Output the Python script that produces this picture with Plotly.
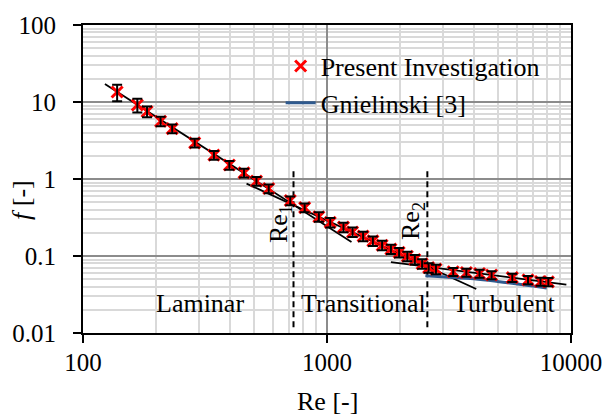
import plotly.graph_objects as go

# ---- data ----
re_data = [138, 167, 183, 208, 232, 287, 344, 398, 457, 514, 577, 707, 810,
           926, 1031, 1168, 1273, 1406, 1542, 1682, 1828, 1975, 2134, 2291,
           2454, 2610, 2796, 3290, 3726, 4218, 4727, 5746, 6666, 7499, 8075]
f_data = [13.5, 9.15, 7.53, 5.63, 4.51, 2.95, 2.04, 1.52, 1.20, 0.938, 0.752,
          0.525, 0.425, 0.324, 0.273, 0.237, 0.205, 0.181, 0.157, 0.138, 0.123,
          0.1115, 0.0993, 0.0902, 0.0794, 0.0707, 0.0675, 0.0624, 0.0611,
          0.0593, 0.0567, 0.0524, 0.0490, 0.0467, 0.0461]
err_pct = [24, 20, 16, 14, 13, 13, 13, 13, 13, 13, 13, 13, 13,
           14, 14, 14, 14, 14, 14, 14, 14, 14, 14, 14,
           14, 14, 14, 12, 12, 12, 12, 12, 12, 12, 12]

lam_fit_re = [123, 1260]
lam_fit_f = [17.1, 0.152]
tra_fit_re = [468, 4090]
tra_fit_f = [0.870, 0.0373]
tur_fit_re = [1828, 9573]
tur_fit_f = [0.0834, 0.0424]

gn_re = [2530, 4000, 5000, 7950]
gn_f = [0.0555, 0.0505, 0.0467, 0.0384]

re1 = 729
re2 = 2578
re1_f = [0.0119, 1.36]
re2_f = [0.0119, 1.28]

x_ticks = [100, 1000, 10000]
x_ticklabels = ["100", "1000", "10000"]
y_ticks = [0.01, 0.1, 1, 10, 100]
y_ticklabels = ["0.01", "0.1", "1", "10", "100"]

FONT = "Liberation Serif, Times New Roman, Tinos, DejaVu Serif, serif"

err_plus = [f * p / 100 for f, p in zip(f_data, err_pct)]

fig = go.Figure()

# fit lines
for xs, ys in [(lam_fit_re, lam_fit_f), (tra_fit_re, tra_fit_f), (tur_fit_re, tur_fit_f)]:
    fig.add_trace(go.Scatter(x=xs, y=ys, mode="lines", showlegend=False,
                             line=dict(color="black", width=1.8), hoverinfo="skip"))

# dashed boundaries
fig.add_trace(go.Scatter(x=[re1, re1], y=re1_f, mode="lines", showlegend=False,
                         line=dict(color="black", width=2, dash="6px,4px")))
fig.add_trace(go.Scatter(x=[re2, re2], y=re2_f, mode="lines", showlegend=False,
                         line=dict(color="black", width=2, dash="6px,4px")))

# Gnielinski
fig.add_trace(go.Scatter(x=gn_re, y=gn_f, mode="lines", name="Gnielinski [3]",
                         line=dict(color="#2f5a8e", width=3, shape="spline"),
                         legendrank=2))

# data points
fig.add_trace(go.Scatter(x=re_data, y=f_data, mode="markers", name="Present Investigation",
                         marker=dict(symbol="x-thin", size=11, color="red",
                                     line=dict(color="red", width=3)),
                         legendrank=1))
# error bars drawn on top of the markers
fig.add_trace(go.Scatter(x=re_data, y=f_data, mode="markers", showlegend=False,
                         marker=dict(size=1, color="rgba(0,0,0,0)"),
                         error_y=dict(type="data", array=err_plus, symmetric=True,
                                      color="black", thickness=2, width=5),
                         hoverinfo="skip"))

ann = [
    dict(text="Laminar", x=2.48, y=-1.621),
    dict(text="Transitional", x=3.15, y=-1.621),
    dict(text="Turbulent", x=3.726, y=-1.621),
]
annotations = []
for a in ann:
    annotations.append(dict(text=a["text"], x=a["x"], y=a["y"], xref="x", yref="y",
                            showarrow=False, font=dict(family=FONT, size=26, color="black"),
                            xanchor="center", yanchor="middle"))
annotations.append(dict(text="Re<sub>1</sub>", x=2.805, y=-0.58, xref="x", yref="y",
                        textangle=-90, showarrow=False, xanchor="center", yanchor="middle",
                        font=dict(family=FONT, size=26, color="black")))
annotations.append(dict(text="Re<sub>2</sub>", x=3.351, y=-0.55, xref="x", yref="y",
                        textangle=-90, showarrow=False, xanchor="center", yanchor="middle",
                        font=dict(family=FONT, size=26, color="black")))
annotations.append(dict(text="<i>f</i> [-]", x=-0.125, y=0.432, xref="paper", yref="paper",
                        textangle=-90, showarrow=False, xanchor="center", yanchor="middle",
                        font=dict(family=FONT, size=26, color="black")))
annotations.append(dict(text="Re [-]", x=0.5, y=-0.2208, xref="paper", yref="paper",
                        showarrow=False, xanchor="center", yanchor="middle",
                        font=dict(family=FONT, size=26, color="black")))

axis_common = dict(
    type="log",
    showline=True, linecolor="black", linewidth=2, mirror=True,
    ticks="outside", ticklen=8, tickwidth=2, tickcolor="black",
    showgrid=True, gridcolor="#8c8c8c", gridwidth=1.5,
    tickfont=dict(family=FONT, size=25, color="black"),
    minor=dict(dtick="D1", showgrid=True, gridcolor="#d9d9d9", gridwidth=1.5, ticks=""),
    zeroline=False,
)

fig.update_layout(
    width=614, height=419,
    margin=dict(l=82, r=36, t=16, b=86),
    paper_bgcolor="white", plot_bgcolor="white",
    font=dict(family=FONT, size=26, color="black"),
    xaxis=dict(axis_common, range=[2, 4], tickvals=x_ticks, ticktext=x_ticklabels,
               ticklabelstandoff=-2),
    yaxis=dict(axis_common, range=[-2, 2], tickvals=y_ticks, ticktext=y_ticklabels,
               ticklabelstandoff=12),
    legend=dict(x=0.405, y=0.943, xanchor="left", yanchor="top", bgcolor="rgba(0,0,0,0)",
                font=dict(family=FONT, size=26, color="black"),
                traceorder="normal", tracegroupgap=4),
    annotations=annotations,
    showlegend=True,
)

fig.write_html("out.html")
